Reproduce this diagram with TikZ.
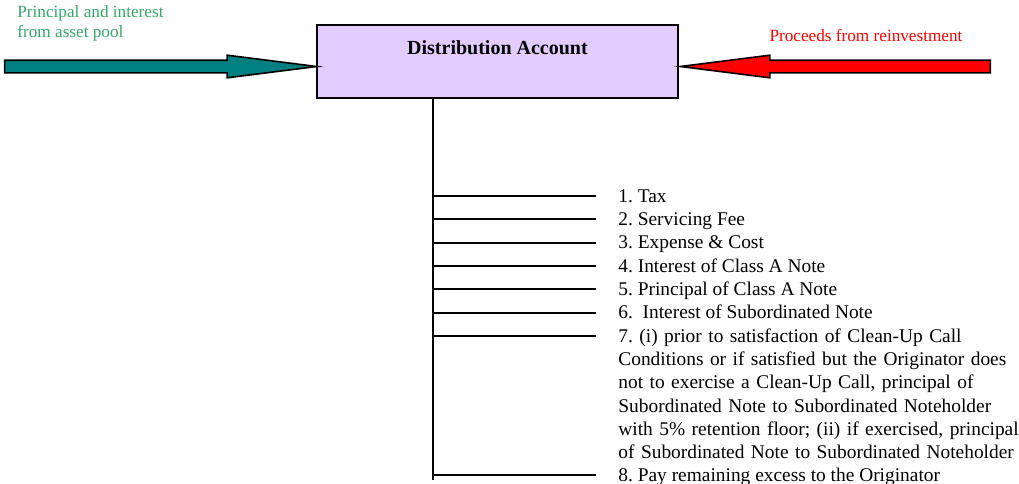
\documentclass[tikz,border=0pt]{standalone}
\usepackage{fontspec}
\setmainfont{Liberation Serif}
\usetikzlibrary{shapes.arrows,positioning,calc}
\definecolor{acctlilac}{RGB}{227,204,255}
\definecolor{poolteal}{RGB}{0,128,128}
\definecolor{poolgreen}{RGB}{55,165,105}
\definecolor{reinvred}{RGB}{255,0,0}
\frenchspacing

\begin{document}
\begin{tikzpicture}[x=0.5pt,y=-0.5pt,
  acct/.style={rectangle,draw,line width=1pt,fill=acctlilac,
               minimum width=180.5pt,minimum height=36.5pt,inner sep=0pt},
  blockarrow/.style={single arrow,draw,line width=0.8pt,
               single arrow head extend=2.5pt,single arrow tip angle=14.4,
               inner xsep=0pt,inner ysep=2.75pt,anchor=tip},
  lbl/.style={font=\fontsize{8.6}{10}\selectfont,align=left,inner sep=0pt},
  item/.style={font=\fontsize{9.7}{11.67}\selectfont,align=left,
               inner sep=0pt,anchor=base west},
  rung/.style={line width=0.9pt}]
\useasboundingbox (0,0) rectangle (1019,483);
% distribution account
\node[acct] (acct) at (497.5,61.5) {};
\node[font=\bfseries\fontsize{10}{12}\selectfont,inner sep=0pt]
  (ttl) at ([yshift=6.75pt]acct.center) {Distribution Account};
% inflows
\node[blockarrow,fill=poolteal,minimum height=156pt]
  (inflow) at ([xshift=3.5pt,yshift=-2.5pt]acct.west) {};
\node[blockarrow,fill=reinvred,minimum height=155pt,shape border rotate=180]
  (reinv) at ([xshift=-2.5pt,yshift=-2.5pt]acct.east) {};
\node[lbl,text=poolgreen,anchor=west] (poollbl) at (17,23)
  {Principal and interest\\from asset pool};
\node[lbl,text=reinvred] (reinvlbl) at (866,36) {Proceeds from reinvestment};
% waterfall
\coordinate (trunkend) at (433,480);
\draw[rung] (acct.south -| trunkend) -- (trunkend);
\node[item] (p1) at (618,202) {1. Tax};
\node[item] (p2) at (618,225.3) {2. Servicing Fee};
\node[item] (p3) at (618,248.7) {3. Expense \& Cost};
\node[item] (p4) at (618,272) {4. Interest of Class A Note};
\node[item] (p5) at (618,295.3) {5. Principal of Class A Note};
\node[item] (p6) at (618,318.7) {6.~ Interest of Subordinated Note};
\node[item,text width=205pt] (p7) at (618,342)
  {7. (i) prior to satisfaction of Clean-Up Call\\
   Conditions or if satisfied but the Originator does\\
   not to exercise a Clean-Up Call, principal of\\
   Subordinated Note to Subordinated Noteholder\\
   with 5\% retention floor; (ii) if exercised, principal\\
   of Subordinated Note to Subordinated Noteholder};
\node[item] (p8) at (618,481) {8. Pay remaining excess to the Originator};
\foreach \p in {p1,p2,p3,p4,p5,p6,p7,p8}
  \draw[rung] ([yshift=3pt]\p.base west -| trunkend)
           -- ([xshift=-11pt,yshift=3pt]\p.base west);
\end{tikzpicture}
\end{document}
